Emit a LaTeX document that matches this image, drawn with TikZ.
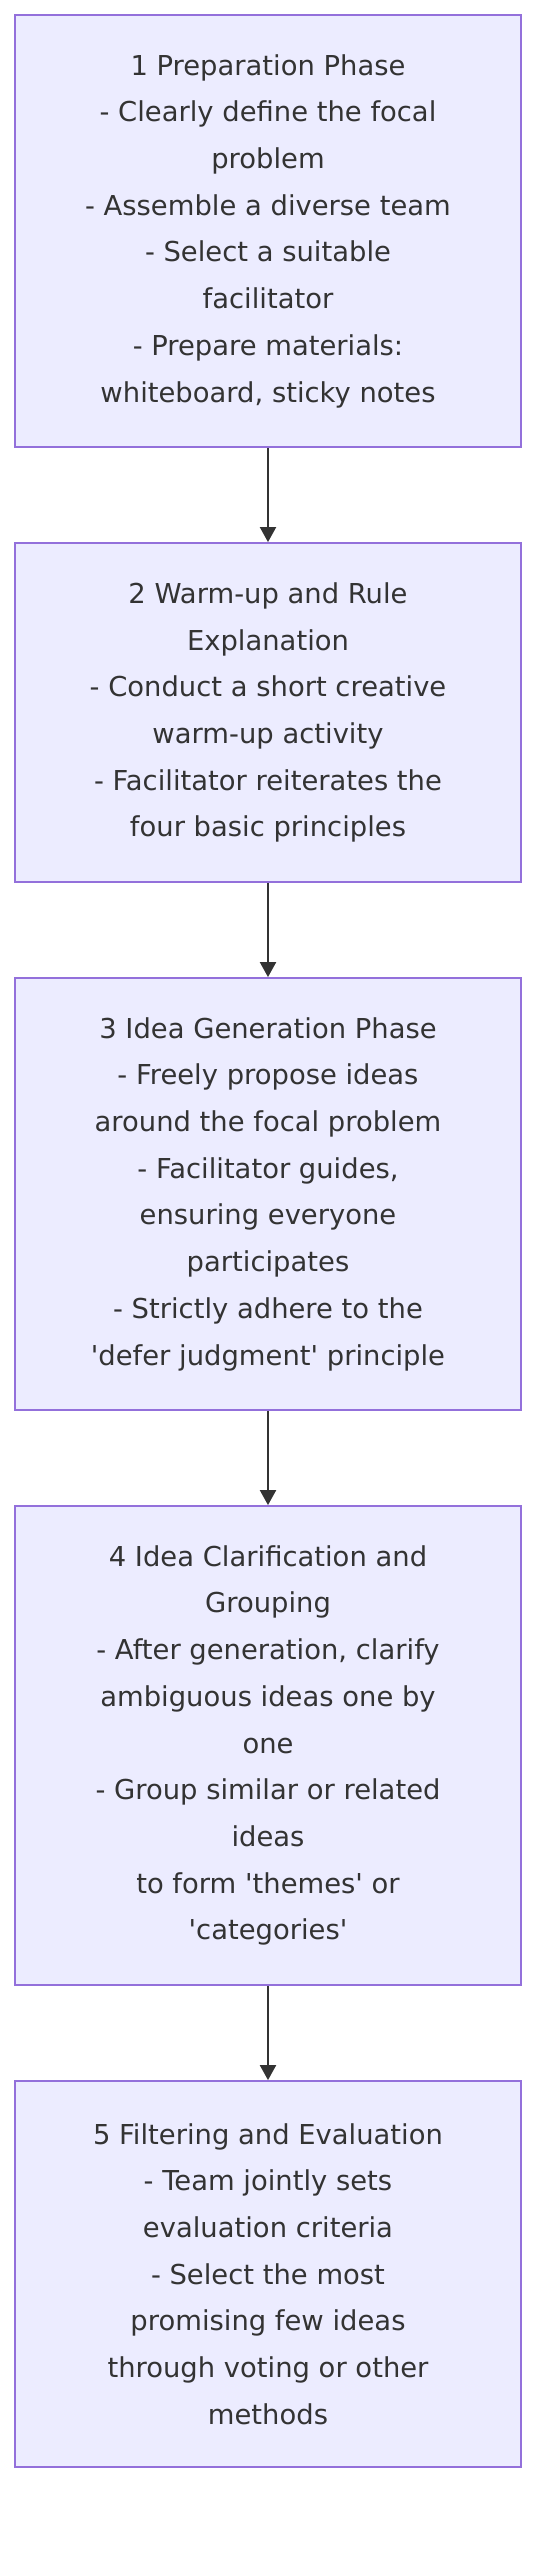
\documentclass[tikz,border=0pt]{standalone}
\usepackage{fontspec}
\setmainfont{DejaVu Sans}[Ligatures=TeXOff]
\usetikzlibrary{arrows.meta}
\definecolor{boxfill}{HTML}{ECECFF}
\definecolor{boxline}{HTML}{9370DB}
\definecolor{txt}{HTML}{333333}
\tikzset{
  stepbox/.style={draw=boxline, fill=boxfill, line width=1.8pt, rectangle,
    minimum width=506pt, inner sep=0pt, align=center, text=txt,
    font={\fontsize{27.4}{46.7}\selectfont}},
  flow/.style={draw=txt, line width=2pt, -{Triangle[width=16pt,length=15pt]}}
}
\begin{document}
\begin{tikzpicture}[x=1pt,y=-1pt]
\useasboundingbox[fill=white] (0,0) rectangle (552,2556);
\node[stepbox, minimum height=432pt] (b1) at (268,231) {1 Preparation Phase\\- Clearly define the focal\\problem\\- Assemble a diverse team\\- Select a suitable\\facilitator\\- Prepare materials:\\whiteboard, sticky notes};
\node[stepbox, minimum height=339pt] (b2) at (268,712.5) {2 Warm-up and Rule\\Explanation\\- Conduct a short creative\\warm-up activity\\- Facilitator reiterates the\\four basic principles};
\node[stepbox, minimum height=432pt] (b3) at (268,1194) {3 Idea Generation Phase\\- Freely propose ideas\\around the focal problem\\- Facilitator guides,\\ensuring everyone\\participates\\- Strictly adhere to the\\'defer judgment' principle};
\node[stepbox, minimum height=479pt] (b4) at (268,1745.5) {4 Idea Clarification and\\Grouping\\- After generation, clarify\\ambiguous ideas one by\\one\\- Group similar or related\\ideas\\to form 'themes' or\\'categories'};
\node[stepbox, minimum height=386pt] (b5) at (268,2274) {5 Filtering and Evaluation\\- Team jointly sets\\evaluation criteria\\- Select the most\\promising few ideas\\through voting or other\\methods};
\draw[flow] (b1.south) -- (b2.north);
\draw[flow] (b2.south) -- (b3.north);
\draw[flow] (b3.south) -- (b4.north);
\draw[flow] (b4.south) -- (b5.north);
\end{tikzpicture}
\end{document}
